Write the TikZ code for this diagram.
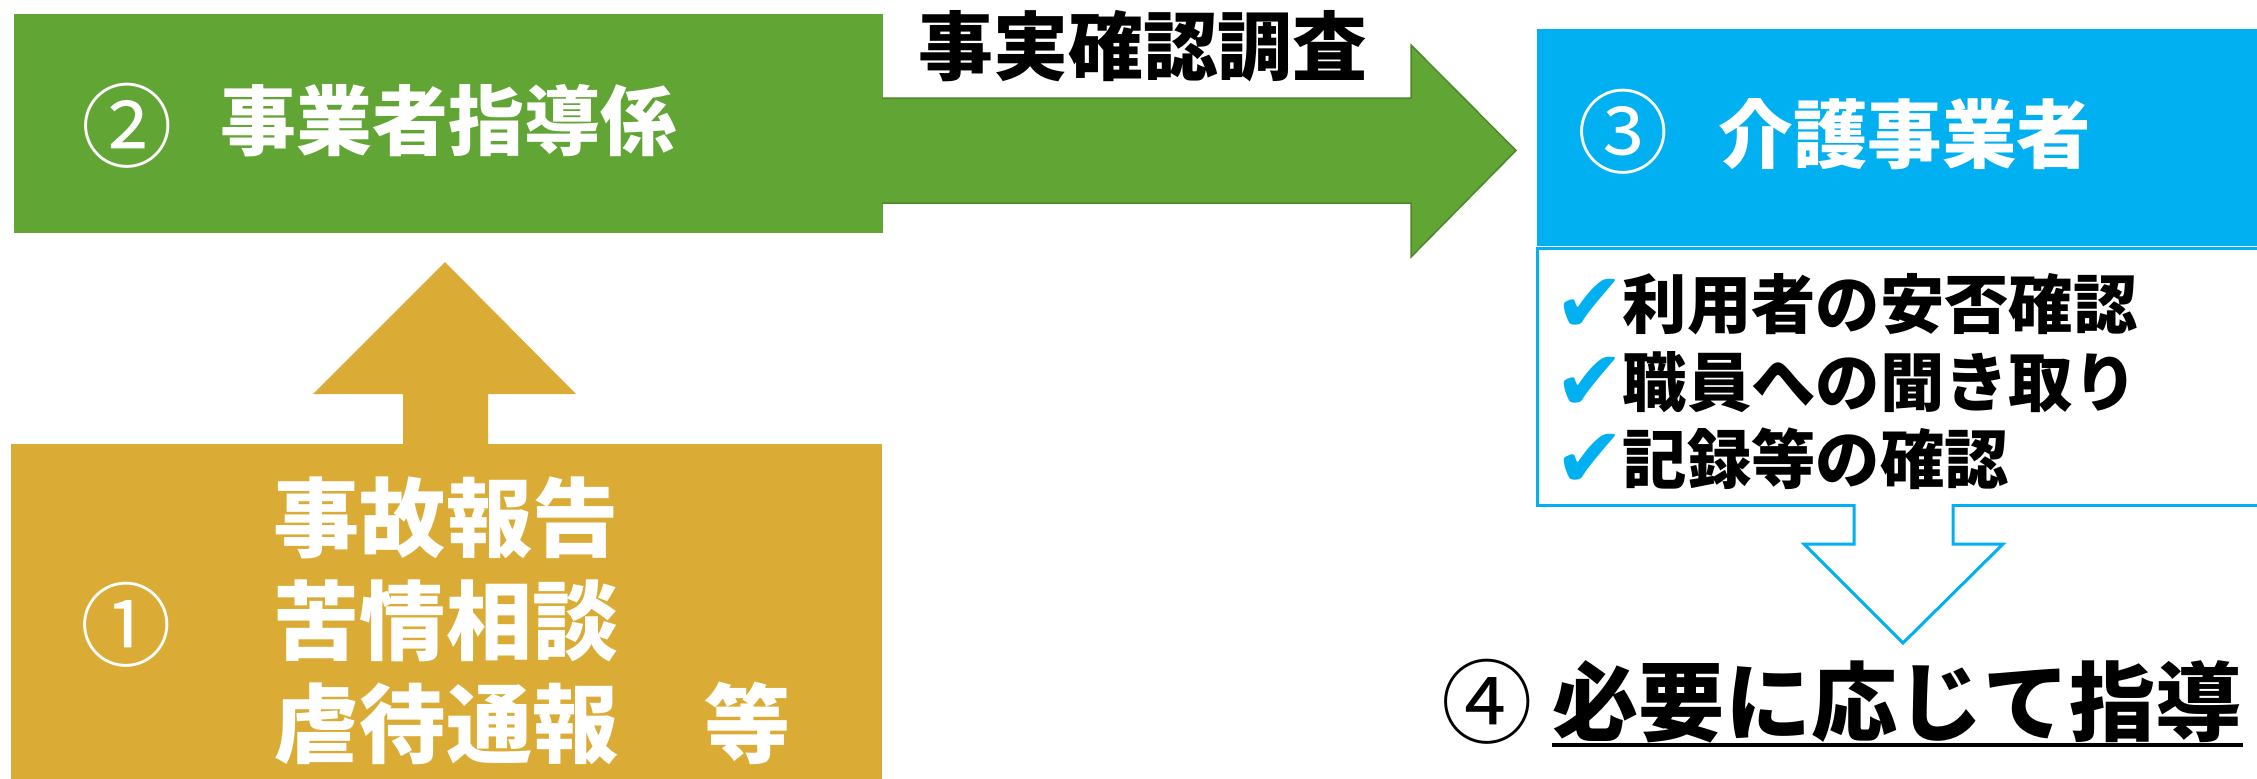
\documentclass[tikz,border=0pt]{standalone}
\usepackage{fontspec}
\newfontfamily\jp{Noto Sans CJK JP}
\newfontfamily\dv{DejaVu Sans}
\definecolor{cGreen}{RGB}{97,165,53}
\definecolor{cGreenD}{RGB}{78,135,42}
\definecolor{cGold}{RGB}{219,172,53}
\definecolor{cBlue}{RGB}{0,176,240}
\tikzset{
  boxnode/.style={inner sep=0pt, outer sep=0pt, anchor=north west},
  jtxt/.style={inner sep=0pt, anchor=west, font=\jp\bfseries\fontsize{#1}{#1}\selectfont},
  circnum/.style={inner sep=0pt, font=\jp\fontsize{26}{26}\selectfont},
  chk/.style={inner sep=0pt, text=cBlue, font=\dv\fontsize{24}{24}\selectfont},
}
\begin{document}
\begin{tikzpicture}[x=0.01cm,y=-0.01cm]
\useasboundingbox (0,0) rectangle (2257,778);
\clip (0,0) rectangle (2257,778);
\fill[white] (0,0) rectangle (2257,778);

% ---- boxes
\node[boxnode, fill=cGreen, minimum width=8.68cm, minimum height=2.19cm] (shido) at (14,14) {};
\node[boxnode, fill=cGold, minimum width=8.70cm, minimum height=3.50cm] (report) at (11,444) {};
\node[boxnode, fill=cBlue, minimum width=7.40cm, minimum height=2.17cm] (jigyo) at (1537,29) {};
\node[boxnode, fill=white, draw=cBlue, line width=0.03cm, minimum width=7.40cm, minimum height=2.57cm] (check) at (1537,248) {};

% ---- block arrows
% green: shido -> jigyo
\coordinate (gS) at (882,150.5);
\coordinate (gT) at (1516,150.5);
\filldraw[fill=cGreen, draw=cGreenD, line width=0.015cm]
  (882,98) -- (1411,98) -- (1411,45) -- (gT) -- (1411,257) -- (1411,203) -- (882,203);
\fill[cGreen] (870,99) rectangle (884,202);
% gold: report -> shido
\coordinate (yT) at (445,262);
\fill[cGold] (403,446) -- (403,394) -- (313,394) -- (yT) -- (576,394) -- (488,394) -- (488,446) -- cycle;
% blue outline: check -> result
\coordinate (bT) at (1903,643);
\fill[white] (1855,495) rectangle (1952,546);
\draw[cBlue, line width=0.03cm, line join=miter]
  (1854,504) -- (1854,544) -- (1804,544) -- (bT) -- (2003,544) -- (1953,544) -- (1953,504);

% ---- texts
\node[circnum, text=white] (n2) at (127,126) {②};
\node[jtxt=21.6, text=white] (t2) at (220,121) {事業者指導係};

\node[jtxt=21.3, text=black, anchor=center] (tlab) at (1143,46) {事実確認調査};

\node[circnum, text=white] (n3) at (1623,132) {③};
\node[jtxt=21.2, text=white] (t3) at (1718,134) {介護事業者};

\node[chk] (c1) at (1590,306) {✔};
\node[jtxt=18.3] (l1) at (1622,304) {利用者の安否確認};
\node[chk] (c2) at (1590,384) {✔};
\node[jtxt=18.3] (l2) at (1622,382) {職員への聞き取り};
\node[chk] (c3) at (1590,461) {✔};
\node[jtxt=18.3] (l3) at (1622,459) {記録等の確認};

\node[circnum, text=white] (n1) at (126,625) {①};
\node[jtxt=24.5, text=white] (r1) at (273,518) {事故報告};
\node[jtxt=24.5, text=white] (r2) at (273,621) {苦情相談};
\node[jtxt=24.5, text=white] (r3) at (273,723) {虐待通報　等};

\node[circnum] (n4) at (1487,702) {④};
\node[jtxt=24.5] (t4) at (1552,702) {必要に応じて指導};
\draw[line width=0.04cm] ([yshift=-0.01cm]t4.south west) -- ([yshift=-0.01cm]t4.south east);
\end{tikzpicture}
\end{document}
